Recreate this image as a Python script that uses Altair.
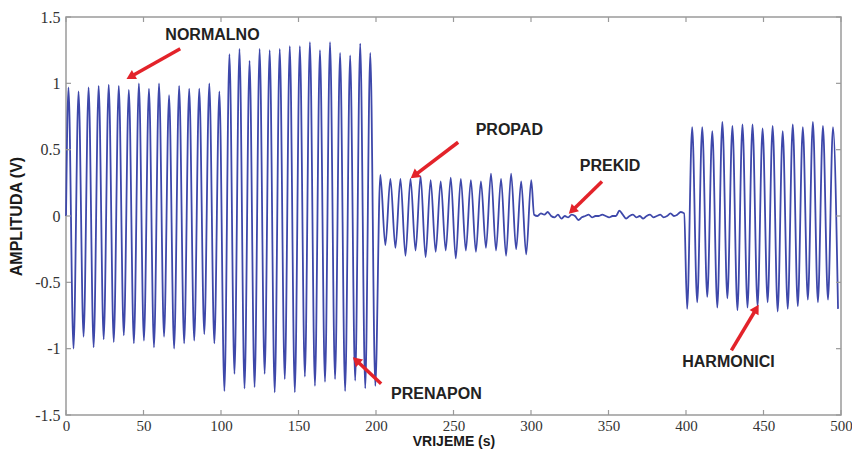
import math
import altair as alt
import pandas as pd

# ---- extremum amplitudes (alternating half-cycles) ----
normal_peaks = [0.97, 0.94, 0.97, 0.98, 0.99, 0.98, 0.95, 1.00, 0.96, 1.00, 0.91, 0.98, 0.96, 0.96, 1.00, 0.94]
normal_troughs = [-1.00, -0.91, -0.99, -0.93, -0.95, -0.90, -0.96, -0.94, -0.99, -0.91, -1.00, -0.96, -0.94, -0.89, -0.96]
over_troughs = [-1.32, -1.19, -1.30, -1.29, -1.19, -1.33, -1.23, -1.33, -1.21, -1.28, -1.25, -1.23, -1.32, -1.24, -1.30, -1.28]
over_peaks = [1.22, 1.26, 1.17, 1.26, 1.25, 1.26, 1.28, 1.28, 1.31, 1.25, 1.31, 1.23, 1.21, 1.30, 1.23]
sag_peaks = [0.31, 0.28, 0.28, 0.28, 0.30, 0.27, 0.26, 0.29, 0.28, 0.27, 0.26, 0.32, 0.28, 0.32, 0.26, 0.27]
sag_troughs = [-0.22, -0.24, -0.30, -0.26, -0.31, -0.27, -0.26, -0.32, -0.26, -0.27, -0.24, -0.26, -0.30, -0.25, -0.29]
gap_noise = [0.01, 0.0, 0.02, 0.01, 0.03, 0.0, -0.01, 0.01, -0.02, 0.0, -0.01, 0.01, 0.0, -0.03, -0.01,
             0.0, 0.01, -0.01, 0.0, 0.0, 0.01, 0.0, -0.01, 0.0, 0.0, 0.04, 0.01, -0.02, 0.0, 0.01,
             -0.01, 0.0, -0.02, 0.0, 0.01, -0.01, 0.0, 0.01, -0.01, 0.0, 0.02, 0.0, 0.01, 0.03, 0.02]
harm_troughs = [-0.70, -0.65, -0.61, -0.69, -0.62, -0.71, -0.69, -0.68, -0.65, -0.72, -0.70, -0.68, -0.63, -0.65, -0.63, -0.70]
harm_peaks = [0.67, 0.67, 0.64, 0.71, 0.68, 0.69, 0.69, 0.66, 0.68, 0.64, 0.69, 0.67, 0.71, 0.68, 0.67]

HALF = 3.245   # half period (s)
T0 = 1.6       # time of first extremum (s)
GAP_START, GAP_STEP = 302.0, 2.2
HARM_INDEX = 123

x_ticks = [0, 50, 100, 150, 200, 250, 300, 350, 400, 450, 500]
y_ticks = [-1.5, -1.0, -0.5, 0.0, 0.5, 1.0, 1.5]

labels = ["NORMALNO", "PROPAD", "PRENAPON", "HARMONICI", "PREKID"]
label_x = [94.5, 286.0, 239.0, 427.4, 351.0]
label_y = [1.366, 0.65, -1.34, -1.10, 0.377]
tail_x = [73.7, 253.0, 203.3, 429.3, 345.8]
tail_y = [1.26, 0.556, -1.264, -1.013, 0.26]
head_x = [41.6, 224.7, 187.2, 445.4, 326.5]
head_y = [1.05, 0.305, -1.088, -0.699, 0.04]


def interleave(a, b):
    out = []
    for i in range(max(len(a), len(b))):
        if i < len(a):
            out.append(a[i])
        if i < len(b):
            out.append(b[i])
    return out


rows = [(0.0, 0.0)]
n = 0
for seg in (interleave(normal_peaks, normal_troughs),
            interleave(over_troughs, over_peaks),
            interleave(sag_peaks, sag_troughs)):
    for v in seg:
        rows.append((T0 + HALF * n, v))
        n += 1
for i, v in enumerate(gap_noise):
    rows.append((GAP_START + GAP_STEP * i, v))
n = HARM_INDEX
for v in interleave(harm_troughs, harm_peaks):
    rows.append((T0 + HALF * n, v))
    n += 1

sig = pd.DataFrame(rows, columns=["t", "v"])

W, H = 775, 398
SX, SY = W / 500.0, H / 3.0
angles = []
for tx, ty, hx, hy in zip(tail_x, tail_y, head_x, head_y):
    a = math.degrees(math.atan2((hx - tx) * SX, (hy - ty) * SY))
    angles.append(a % 360)

ann = pd.DataFrame({"label": labels, "lx": label_x, "ly": label_y,
                    "tx": tail_x, "ty": tail_y, "hx": head_x, "hy": head_y,
                    "ang": angles})
xt = pd.DataFrame({"x": x_ticks})
yt = pd.DataFrame({"y": y_ticks})

xs = alt.Scale(domain=[0, 500], nice=False, zero=False)
ys = alt.Scale(domain=[-1.5, 1.5], nice=False, zero=False)
FRAME = "#9a9a9a"

line = alt.Chart(sig).mark_line(color="#3e48aa", strokeWidth=1.8, interpolate="monotone").encode(
    x=alt.X("t:Q", scale=xs,
            axis=alt.Axis(values=x_ticks, title="VRIJEME (s)", ticks=False, domain=False, grid=False,
                          labelFlush=False, labelExpr="'' + datum.value", labelPadding=3, titlePadding=1,
                          labelFontSize=15, titleFontSize=14)),
    y=alt.Y("v:Q", scale=ys,
            axis=alt.Axis(values=y_ticks, title="AMPLITUDA (V)", ticks=False, domain=False, grid=False,
                          labelFlush=False, labelExpr="'' + datum.value", labelPadding=6, titlePadding=10)),
    order="t:Q",
)

tick_b = alt.Chart(xt).mark_rule(color=FRAME, strokeWidth=1.2).encode(
    x=alt.X("x:Q", scale=xs), y=alt.value(H), y2=alt.value(H - 5))
tick_t = alt.Chart(xt).mark_rule(color=FRAME, strokeWidth=1.2).encode(
    x=alt.X("x:Q", scale=xs), y=alt.value(0), y2=alt.value(5))
tick_l = alt.Chart(yt).mark_rule(color=FRAME, strokeWidth=1.2).encode(
    y=alt.Y("y:Q", scale=ys), x=alt.value(0), x2=alt.value(5))
tick_r = alt.Chart(yt).mark_rule(color=FRAME, strokeWidth=1.2).encode(
    y=alt.Y("y:Q", scale=ys), x=alt.value(W), x2=alt.value(W - 5))

arrows = alt.Chart(ann).mark_rule(color="#e3232a", strokeWidth=3.5).encode(
    x=alt.X("tx:Q", scale=xs), y=alt.Y("ty:Q", scale=ys), x2="hx:Q", y2="hy:Q")
heads = alt.Chart(ann).mark_point(shape="triangle-up", filled=True, color="#e3232a", size=110, opacity=1).encode(
    x=alt.X("hx:Q", scale=xs), y=alt.Y("hy:Q", scale=ys), angle=alt.Angle("ang:Q", scale=None))
texts = alt.Chart(ann).mark_text(font="Liberation Sans", fontWeight="bold", fontSize=16,
                                 color="#222222", align="center", baseline="middle").encode(
    x=alt.X("lx:Q", scale=xs), y=alt.Y("ly:Q", scale=ys), text="label:N")

chart = alt.layer(line, tick_b, tick_t, tick_l, tick_r, arrows, heads, texts).properties(
    width=W, height=H,
    autosize=alt.AutoSizeParams(type="none"),
    padding={"left": 58, "top": 9, "right": 11, "bottom": 36},
    background="white",
).configure_view(stroke=FRAME, strokeWidth=1.5).configure_axis(
    labelFont="Liberation Serif", labelFontSize=16, labelColor="#333333",
    titleFont="Liberation Sans", titleFontWeight="bold", titleFontSize=16, titleColor="#1a1a1a",
)

chart.save("out.html", embed_options={"renderer": "svg", "actions": False})
